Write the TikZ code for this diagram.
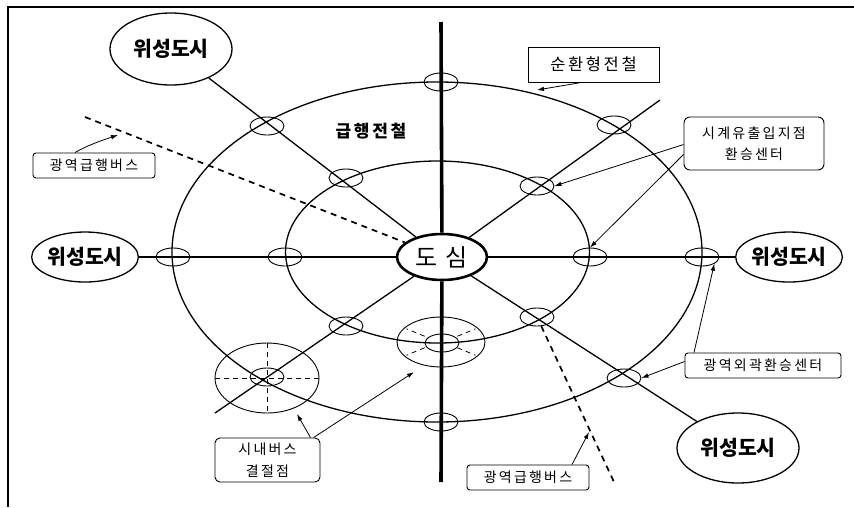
\documentclass[tikz,border=0pt]{standalone}
\usepackage{fontspec}
\newfontfamily\kr{Noto Sans CJK KR}
\newfontfamily\krs[LetterSpace=16]{Noto Sans CJK KR}
\usetikzlibrary{shapes.geometric,arrows.meta,calc}
\begin{document}
\begin{tikzpicture}[x=1pt,y=-1pt,
  sat/.style={ellipse, draw, line width=1.3pt, fill=white, inner sep=0pt,
    font=\kr\bfseries\fontsize{20.5}{24}\selectfont},
  stn/.style={ellipse, draw, line width=0.9pt, minimum width=34pt, minimum height=18pt, inner sep=0pt},
  rail/.style={line width=1.3pt},
  ring/.style={line width=1.3pt},
  bus/.style={line width=1.7pt, dash pattern=on 6pt off 5pt},
  lbl/.style={draw, line width=0.9pt, inner sep=0pt, align=center,
    font=\krs\fontsize{14}{21.5}\selectfont},
  arr/.style={line width=0.8pt, -{Latex[length=7pt,width=4.5pt]}},
  thin dash/.style={line width=0.8pt, dash pattern=on 5pt off 4pt}]
\useasboundingbox (0,0) rectangle (854,507);
% frame
\draw[line width=1.2pt] (8,507) -- (8,7) -- (854,7);

% rings
\draw[ring] (437,252) ellipse [x radius=265pt, y radius=170pt];
\draw[ring] (437.5,252) ellipse [x radius=152pt, y radius=91pt];

% catchment areas
\draw[line width=0.9pt] (267,378) ellipse [x radius=52pt, y radius=35pt];
\draw[thin dash] (215,378) -- (319,378);
\draw[thin dash] (267,343) -- (267,413);
\draw[line width=0.9pt] (441,342) ellipse [x radius=44pt, y radius=25pt];
\foreach \a in {35,145,215,325}{
  \draw[thin dash] ($(441,342)+(\a:20pt and 10pt)$) -- ($(441,342)+(\a:42pt and 23pt)$);
}

% main nodes
\node[sat, minimum width=122pt, minimum height=72pt] (TL) at (171,49) {위성도시};
\node[sat, minimum width=104pt, minimum height=50pt] (L) at (85,257) {위성도시};
\node[sat, minimum width=106pt, minimum height=50pt] (R) at (789,257) {위성도시};
\node[sat, minimum width=122pt, minimum height=70pt] (BR) at (738,448) {위성도시};
\node[ellipse, draw, line width=2.6pt, fill=white, inner sep=0pt, minimum width=90pt, minimum height=46pt,
  font=\kr\fontsize{24}{26}\selectfont] (C) at (442,257) {도\,\,심};

\coordinate (vt) at (441,22);
\coordinate (vb) at (441,482);
\coordinate (ne) at (660,100);
\coordinate (sw) at (215,413);

% rail lines
\draw[line width=3.6pt] (vt) -- (C);
\draw[line width=3.6pt] (C) -- (vb);
\draw[rail] (L) -- (C);
\draw[rail] (C) -- (R);
\draw[rail] (TL) -- (C);
\draw[rail] (C) -- (BR);
\draw[rail] (ne) -- (C);
\draw[rail] (C) -- (sw);

% stations
\node[stn] (sOT) at (441,82) {};
\node[stn] (sOB) at (441,422) {};
\node[stn] (sOL) at (173,257) {};
\node[stn] (sOR) at (702,257) {};
\node[stn] (sIL) at (285,257) {};
\node[stn] (sIR) at (590,257) {};
\node[stn] (sIB) at (442,343) {};
\node[stn] (sO1) at (267,126) {};
\node[stn] (sI1) at (346,178) {};
\node[stn] (sI2) at (537,317) {};
\node[stn] (sO2) at (624,378) {};
\node[stn] (sO3) at (614,125) {};
\node[stn] (sI3) at (537,186) {};
\node[stn] (sI4) at (346,326) {};
\node[stn] (sO4) at (267,377) {};

% express bus lines
\coordinate (bA) at (85,117);
\coordinate (bB) at (614,482);
\draw[bus] (bA) -- (C);
\draw[bus] (sI2) -- (bB);

% labels
\node[font=\krs\bfseries\fontsize{17}{19}\selectfont] (T1) at (371,131) {급행전철};
\node[lbl, font=\krs\fontsize{16.5}{18}\selectfont, minimum width=131pt, minimum height=35pt] (B1) at (593.5,64.5) {순환형전철};
\node[lbl, rounded corners=6pt, minimum width=140pt, minimum height=53pt] (B2) at (754,143.5) {시계유출입지점\\환승센터};
\node[lbl, rounded corners=3pt, minimum width=122pt, minimum height=25pt] (B3) at (94,165.5) {광역급행버스};
\node[lbl, rounded corners=3pt, minimum width=156pt, minimum height=25pt] (B4) at (763,365.5) {광역외곽환승센터};
\node[lbl, rounded corners=5pt, minimum width=105pt, minimum height=44pt] (B5) at (267.5,460) {시내버스\\결절점};
\node[lbl, rounded corners=3pt, minimum width=122pt, minimum height=25pt] (B6) at (528,477.5) {광역급행버스};

% arrow targets
\coordinate (t1) at (537,90);
\coordinate (t3) at (118,135);
\coordinate (t5a) at (297,414);
\coordinate (t5b) at (414,372);
\coordinate (t6) at (589,432);

% arrows
\draw[arr] ([xshift=-12pt]B1.south) -- (t1);
\draw[arr] ([yshift=-1pt]B2.west) -- (sI3.east);
\draw[arr] ([yshift=-11pt]B2.west) -- (sIR.north);
\draw[arr] ([xshift=-19pt]B3.north) .. controls (88,145) and (103,140) .. (t3);
\draw[arr] ([xshift=-69pt]B4.north) -- (sOR.south east);
\draw[arr] ([yshift=4pt]B4.west) -- (sO2.east);
\draw[arr] ([xshift=43pt]B5.north) -- (t5a);
\draw[arr] ([xshift=46pt]B5.north) -- (t5b);
\draw[arr] ([xshift=44pt]B6.north) -- (t6);
\end{tikzpicture}
\end{document}
